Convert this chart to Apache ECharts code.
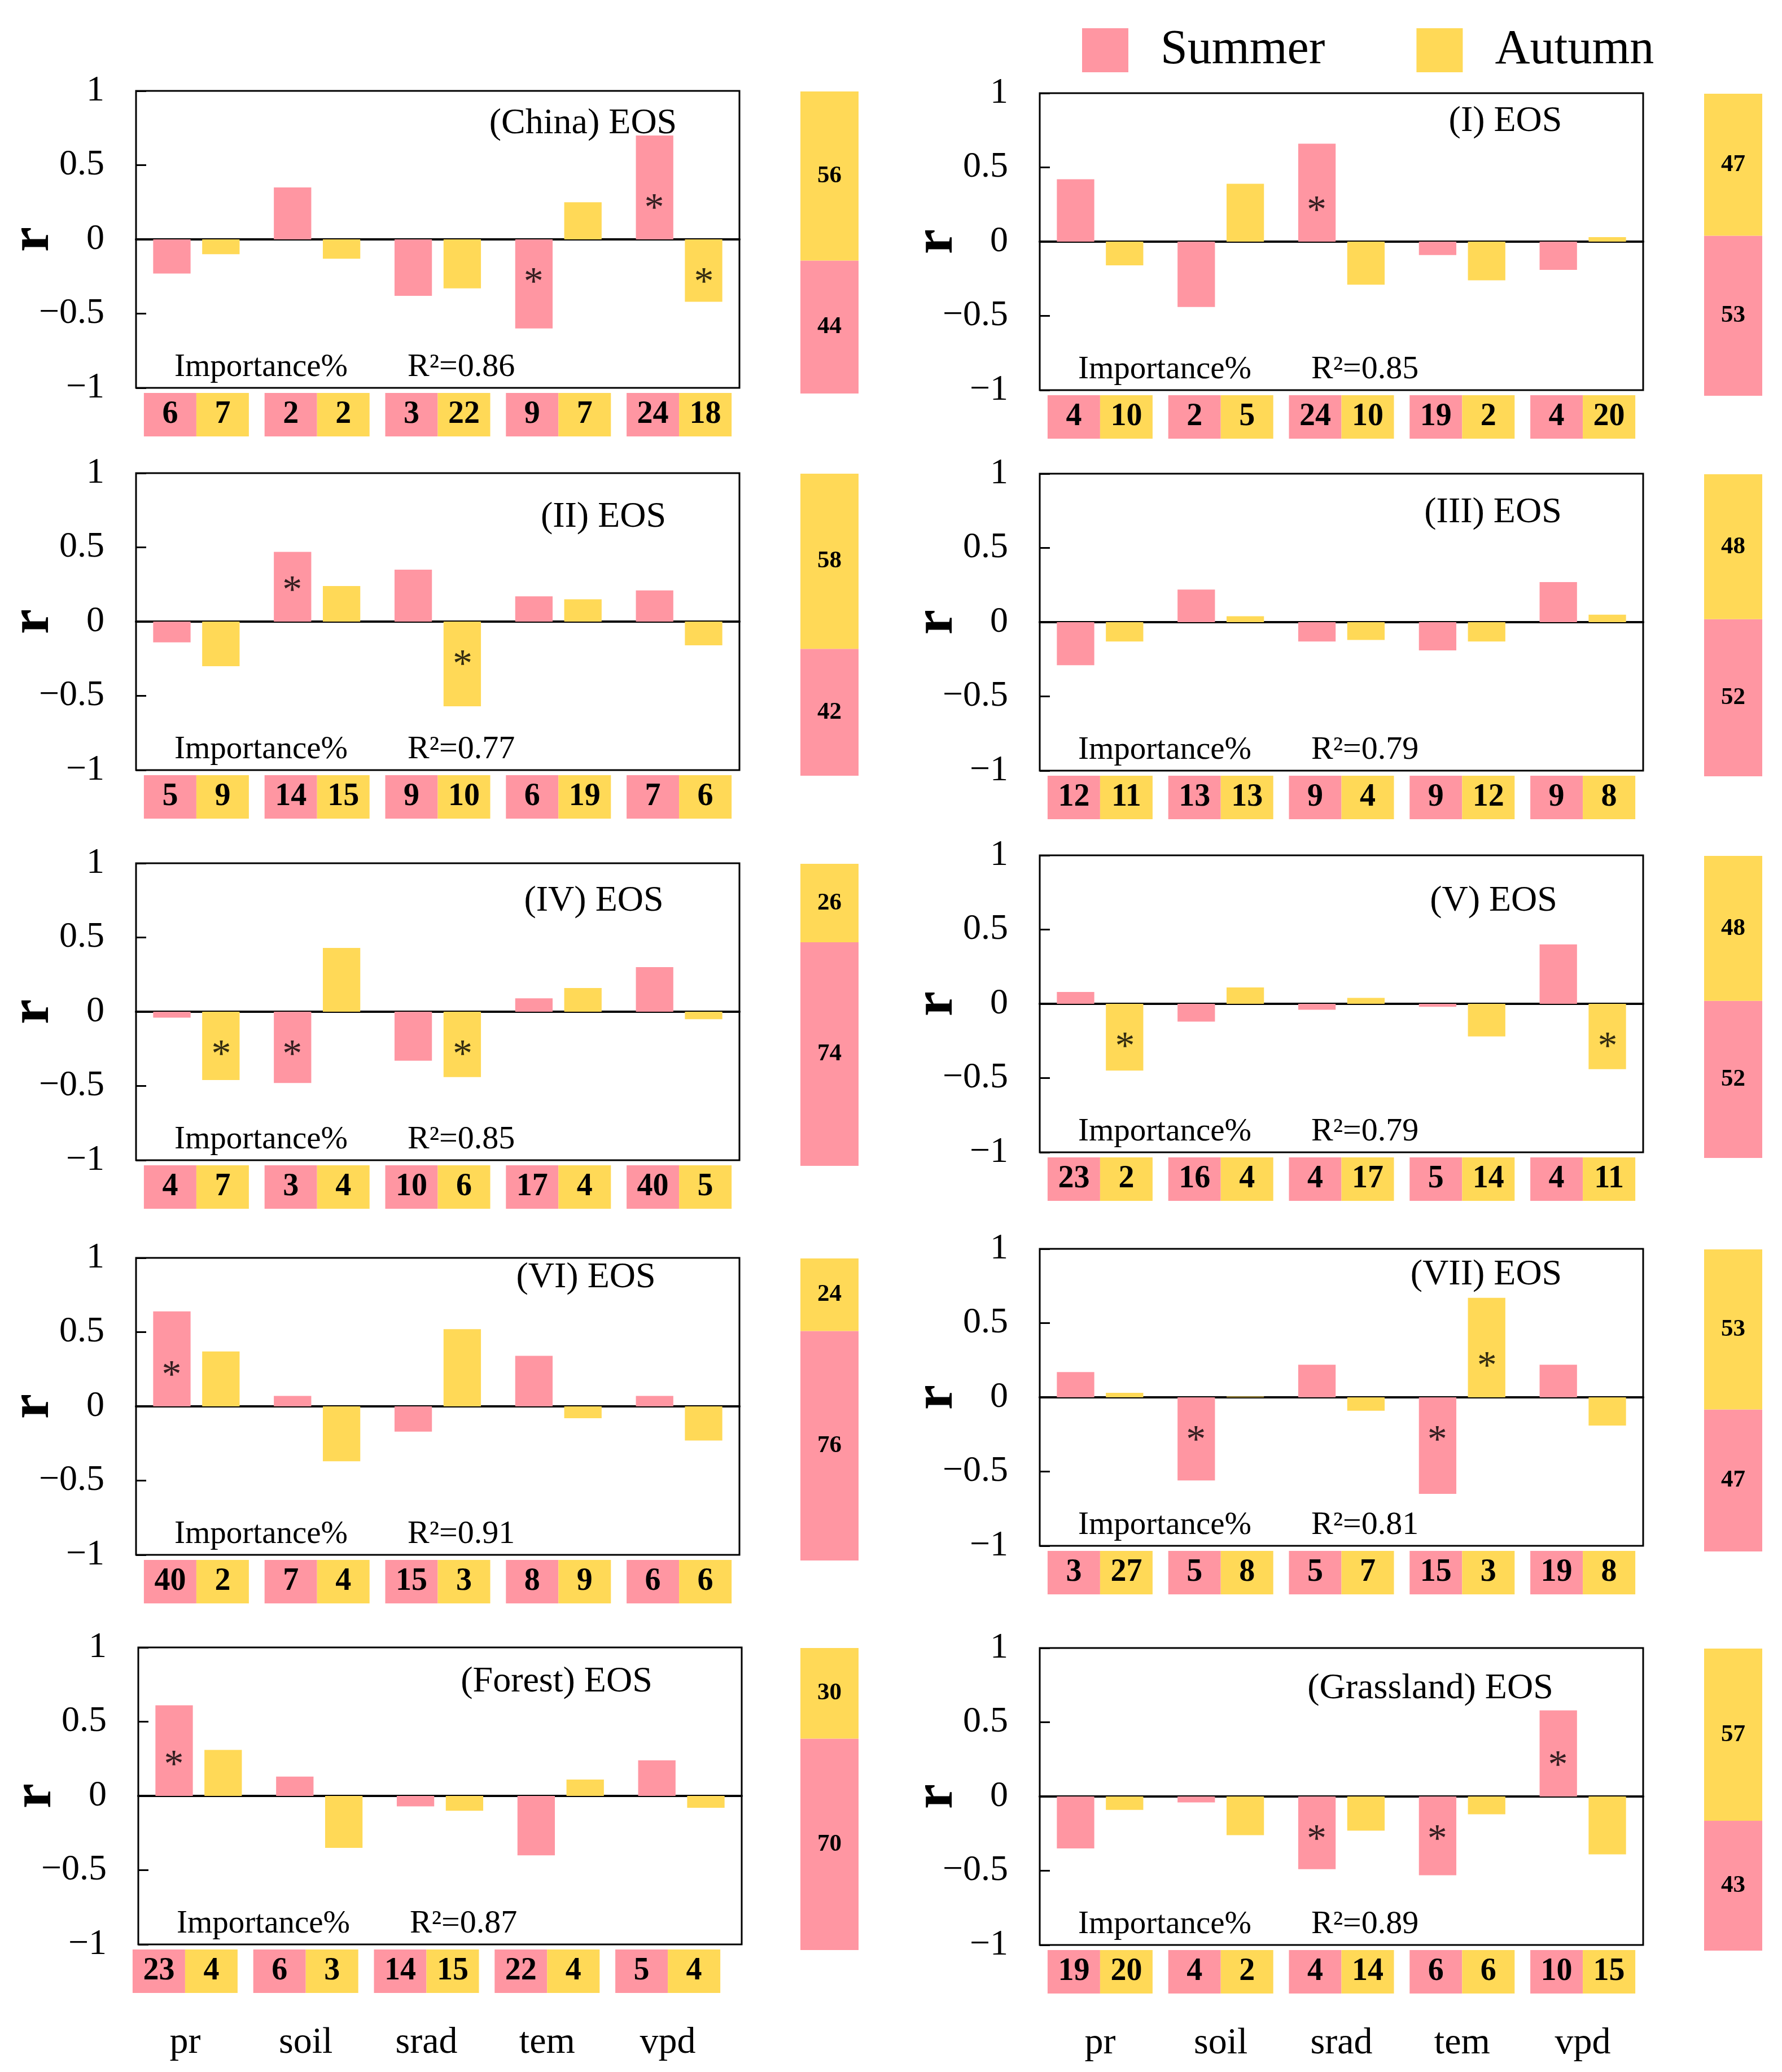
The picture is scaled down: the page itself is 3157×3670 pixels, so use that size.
<!DOCTYPE html>
<html>
<head>
<meta charset="utf-8">
<script src="https://cdn.jsdelivr.net/npm/echarts@6/dist/echarts.min.js"></script>
<style>
  html, body { margin: 0; background: #fff; }
  #main { width: 3157px; height: 3670px; }
</style>
</head>
<body>
<div id="main"></div>
<script>
// ---- data ----
const categories = ['pr', 'soil', 'srad', 'tem', 'vpd']
const panelNames = ['(China) EOS', '(I) EOS', '(II) EOS', '(III) EOS', '(IV) EOS',
  '(V) EOS', '(VI) EOS', '(VII) EOS', '(Forest) EOS', '(Grassland) EOS']

const summerR = [
  [-0.23, 0.35, -0.38, -0.60, 0.70],
  [0.42, -0.44, 0.66, -0.09, -0.19],
  [-0.14, 0.47, 0.35, 0.17, 0.21],
  [-0.29, 0.22, -0.13, -0.19, 0.27],
  [-0.04, -0.48, -0.33, 0.09, 0.30],
  [0.08, -0.12, -0.04, -0.02, 0.40],
  [0.64, 0.07, -0.17, 0.34, 0.07],
  [0.17, -0.56, 0.22, -0.65, 0.22],
  [0.61, 0.13, -0.07, -0.40, 0.24],
  [-0.35, -0.04, -0.49, -0.53, 0.58]
]
const autumnR = [
  [-0.10, -0.13, -0.33, 0.25, -0.42],
  [-0.16, 0.39, -0.29, -0.26, 0.03],
  [-0.30, 0.24, -0.57, 0.15, -0.16],
  [-0.13, 0.04, -0.12, -0.13, 0.05],
  [-0.46, 0.43, -0.44, 0.16, -0.05],
  [-0.45, 0.11, 0.04, -0.22, -0.44],
  [0.37, -0.37, 0.52, -0.08, -0.23],
  [0.03, 0.005, -0.09, 0.67, -0.19],
  [0.31, -0.35, -0.10, 0.11, -0.08],
  [-0.09, -0.26, -0.23, -0.12, -0.39]
]
// 1 = significant (*)
const summerSig = [
  [0, 0, 0, 1, 1], [0, 0, 1, 0, 0], [0, 1, 0, 0, 0], [0, 0, 0, 0, 0], [0, 1, 0, 0, 0],
  [0, 0, 0, 0, 0], [1, 0, 0, 0, 0], [0, 1, 0, 1, 0], [1, 0, 0, 0, 0], [0, 0, 1, 1, 1]
]
const autumnSig = [
  [0, 0, 0, 0, 1], [0, 0, 0, 0, 0], [0, 0, 1, 0, 0], [0, 0, 0, 0, 0], [1, 0, 1, 0, 0],
  [1, 0, 0, 0, 1], [0, 0, 0, 0, 0], [0, 0, 0, 1, 0], [0, 0, 0, 0, 0], [0, 0, 0, 0, 0]
]
const summerImp = [
  [6, 2, 3, 9, 24], [4, 2, 24, 19, 4], [5, 14, 9, 6, 7], [12, 13, 9, 9, 9], [4, 3, 10, 17, 40],
  [23, 16, 4, 5, 4], [40, 7, 15, 8, 6], [3, 5, 5, 15, 19], [23, 6, 14, 22, 5], [19, 4, 4, 6, 10]
]
const autumnImp = [
  [7, 2, 22, 7, 18], [10, 5, 10, 2, 20], [9, 15, 10, 19, 6], [11, 13, 4, 12, 8], [7, 4, 6, 4, 5],
  [2, 4, 17, 14, 11], [2, 4, 3, 9, 6], [27, 8, 7, 3, 8], [4, 3, 15, 4, 4], [20, 2, 14, 6, 15]
]
const r2 = ['0.86', '0.85', '0.77', '0.79', '0.85', '0.79', '0.91', '0.81', '0.87', '0.89']
const summerTotal = [44, 53, 42, 52, 74, 52, 76, 47, 70, 43]
const autumnTotal = [56, 47, 58, 48, 26, 48, 24, 53, 30, 57]

// ---- layout ----
const FONT = '"Liberation Serif", "Times New Roman", serif'
const PINK = '#FF96A2'
const YELLOW = '#FFD957'
const colX = [241, 1842]
const stackX = [1418, 3019]
const rowTop = [[161, 838, 1529, 2228, 2918], [165, 839, 1515, 2212, 2919]]
const plotW = 1069
const plotH = 526
// title centre (dx from plot left, dy from plot top)
const titlePos = [[792, 58], [825, 50], [828, 78], [803, 69], [811, 67],
  [804, 81], [797, 35], [791, 46], [741, 61], [692, 72]]
const boxShift = [0, 0, 0, 0, 0, 0, 0, 0, -24, 0]

const chart = echarts.init(document.getElementById('main'))

const grids = [], xAxes = [], yAxes = [], series = [], graphics = []
const fmtY = v => (v < 0 ? '\u2212' + Math.abs(v) : String(v))
const gridBase = { containLabel: false, outerBoundsMode: 'none' }

panelNames.forEach((name, i) => {
  const col = i % 2, row = Math.floor(i / 2)
  const left = colX[col] + (i === 8 ? 4 : 0)
  const top = rowTop[col][row]
  const g = i * 3

  // main correlation plot
  grids.push({ ...gridBase, left, top, width: plotW, height: plotH, show: true, borderColor: '#000', borderWidth: 3 })
  xAxes.push({
    gridIndex: g, type: 'category', data: categories,
    axisLine: { onZero: true, lineStyle: { color: '#000', width: 4 } },
    axisTick: { show: false }, axisLabel: { show: false }
  })
  yAxes.push({
    gridIndex: g, type: 'value', min: -1, max: 1, interval: 0.5,
    splitLine: { show: false }, axisLine: { show: false },
    axisTick: { show: true, inside: true, length: 18, lineStyle: { color: '#000', width: 3 } },
    axisLabel: { margin: 56, fontSize: 64, color: '#000', fontFamily: FONT, formatter: fmtY },
    name: 'r', nameLocation: 'middle', nameGap: 132, nameRotate: 90, nameMoveOverlap: false,
    nameTextStyle: { fontSize: 100, fontWeight: 'bold', fontFamily: FONT, color: '#000' }
  })
  series.push(
    { type: 'bar', name: 'Summer', xAxisIndex: g, yAxisIndex: g, data: summerR[i],
      barWidth: '31%', barGap: '31%', itemStyle: { color: PINK } },
    { type: 'bar', name: 'Autumn', xAxisIndex: g, yAxisIndex: g, data: autumnR[i],
      barWidth: '31%', barGap: '31%', itemStyle: { color: YELLOW } }
  )
  const starSeries = (vals, sig, dx) => ({
    type: 'scatter', name: 'star', xAxisIndex: g, yAxisIndex: g, symbolSize: 0, silent: true,
    data: vals.map((v, k) => [k, v]).filter((d, k) => sig[k]).map(d => [d[0], d[1] > 0 ? 0.20 : -0.30]),
    label: { show: true, position: 'inside', formatter: '*', offset: [dx, 0],
      fontSize: 70, fontFamily: FONT, color: '#000' }
  })
  series.push(starSeries(summerR[i], summerSig[i], -44), starSeries(autumnR[i], autumnSig[i], 44))

  // importance boxes
  grids.push({ ...gridBase, left: left + boxShift[i], top: top + plotH + 9, width: plotW, height: 77 })
  xAxes.push({
    gridIndex: g + 1, type: 'category', data: categories,
    axisLine: { show: false }, axisTick: { show: false },
    axisLabel: { show: row === 4, fontSize: 66, fontFamily: FONT, color: '#000', margin: 56 }
  })
  yAxes.push({ gridIndex: g + 1, type: 'value', min: 0, max: 1, show: false })
  const boxSeries = (nm, imp, color) => ({
    type: 'bar', name: nm, xAxisIndex: g + 1, yAxisIndex: g + 1,
    data: imp.map(() => 1), barWidth: '43.5%', barGap: '0%', itemStyle: { color },
    label: { show: true, position: 'inside', formatter: p => imp[p.dataIndex],
      fontSize: 56, fontWeight: 'bold', fontFamily: FONT, color: '#000' }
  })
  series.push(boxSeries('Summer', summerImp[i], PINK), boxSeries('Autumn', autumnImp[i], YELLOW))

  // total importance stack
  grids.push({ ...gridBase, left: stackX[col], top: top + 1, width: 103, height: 535 })
  xAxes.push({ gridIndex: g + 2, type: 'category', data: ['total'], show: false })
  yAxes.push({ gridIndex: g + 2, type: 'value', min: 0, max: 100, show: false })
  const stackSeries = (nm, val, color) => ({
    type: 'bar', name: nm, xAxisIndex: g + 2, yAxisIndex: g + 2, stack: 'tot' + i,
    data: [val], barWidth: '100%', itemStyle: { color },
    label: { show: true, position: 'inside', fontSize: 43, fontWeight: 'bold', fontFamily: FONT, color: '#000' }
  })
  series.push(stackSeries('Summer', summerTotal[i], PINK), stackSeries('Autumn', autumnTotal[i], YELLOW))

  // texts inside the plot
  graphics.push(
    { type: 'text', x: left + titlePos[i][0], y: top + titlePos[i][1],
      style: { text: name, fontSize: 64, fontFamily: FONT, fill: '#000', textAlign: 'center', textVerticalAlign: 'middle' } },
    { type: 'text', x: left + 68, y: top + plotH - 36,
      style: { text: 'Importance%', fontSize: 57, fontFamily: FONT, fill: '#000', textAlign: 'left', textVerticalAlign: 'middle' } },
    { type: 'text', x: left + 481, y: top + plotH - 36,
      style: { text: 'R\u00b2=' + r2[i], fontSize: 58, fontFamily: FONT, fill: '#000', textAlign: 'left', textVerticalAlign: 'middle' } }
  )
})

chart.setOption({
  backgroundColor: '#fff',
  animation: false,
  legend: {
    data: ['Summer', 'Autumn'], left: 1912, top: 41, itemWidth: 82, itemHeight: 78, itemGap: 162,
    icon: 'rect', selectedMode: false,
    textStyle: { fontSize: 86, fontFamily: FONT, color: '#000', padding: [0, 0, 0, 52] }
  },
  grid: grids,
  xAxis: xAxes,
  yAxis: yAxes,
  series,
  graphic: graphics
})
</script>
</body>
</html>
